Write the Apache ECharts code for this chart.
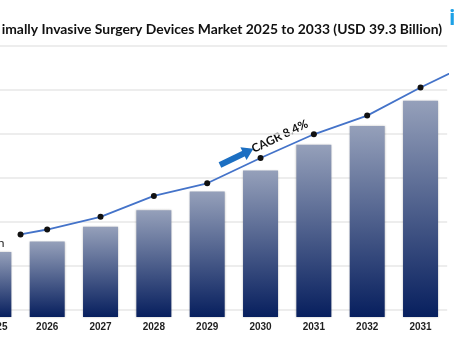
<!DOCTYPE html>
<html><head><meta charset="utf-8">
<script src="https://cdn.jsdelivr.net/npm/echarts@6/dist/echarts.min.js"></script>
<style>html,body{margin:0;padding:0;background:#fff}#c{width:454px;height:341px}</style>
</head><body><div id="c"></div>
<script>
// ---- data ----
const categories = ['2025', '2026', '2027', '2028', '2029', '2030', '2031', '2032', '2031'];
const barValues = [11.8, 13.7, 16.4, 19.4, 22.8, 26.6, 31.3, 34.7, 39.3];
const linePositions = [0.5, 1, 2, 3, 4, 5, 6, 7, 8, 9];
const lineValues = [15.0, 15.9, 18.2, 22.0, 24.3, 28.9, 33.2, 36.6, 41.7, 46.4];
const titleText = 'imally Invasive Surgery Devices Market 2025 to 2033 (USD 39.3 Billion)';
const cagrText = 'CAGR 8.4%';
const leftLabelText = 'n';
const logoText = 'i';

function fitSize(text, weight, family, target) {
  const ctx = document.createElement('canvas').getContext('2d');
  ctx.font = weight + ' 100px ' + family;
  return 100 * target / ctx.measureText(text).width;
}
const titleFont = 'Lato';
const titleSize = fitSize(titleText, 'bold', titleFont, 441);
const cagrSize = fitSize(cagrText, 'bold', 'Lato', 61);

const chart = echarts.init(document.getElementById('c'), null, {renderer: 'canvas'});
const grid = {left: -32.8, right: 6.8, top: 45.7, bottom: 24, containLabel: false, outerBoundsMode: 'none'};
chart.setOption({
  animation: false,
  backgroundColor: '#ffffff',
  grid: grid,
  xAxis: [
    {
      type: 'category', data: categories, boundaryGap: true,
      axisLine: {show: false}, axisTick: {show: false}, splitLine: {show: false},
      axisLabel: {
        margin: 5, fontFamily: 'Liberation Sans', fontWeight: 'bold', fontSize: 10, color: '#1e1e1e',
        interval: 0, hideOverlap: false,
        formatter: (v, i) => i === 0 ? '{first|' + v + '}' : v,
        rich: {first: {fontFamily: 'Liberation Sans', fontWeight: 'bold', fontSize: 10, color: '#1e1e1e', padding: [0, 0, 0, 5]}}
      }
    },
    {type: 'value', min: -0.5, max: 8.5, show: false}
  ],
  yAxis: [
    {type: 'value', min: 0, max: 49.3, show: false, splitLine: {show: false}},
    {type: 'value', min: 0, max: 6.159, interval: 1, inverse: true,
     axisLine: {show: false}, axisTick: {show: false}, axisLabel: {show: false},
     splitLine: {show: true, showMaxLine: false, lineStyle: {color: '#e7e7e7', width: 1.6}}}
  ],
  series: [
    {
      type: 'bar', xAxisIndex: 0, yAxisIndex: 0, data: barValues, barWidth: 35,
      itemStyle: {
        color: new echarts.graphic.LinearGradient(0, 0, 0, 1, [
          {offset: 0, color: '#95a0ba'}, {offset: 1, color: '#071f5e'}
        ]),
        shadowBlur: 2, shadowColor: 'rgba(0,0,0,0.25)'
      },
      silent: true
    },
    {
      type: 'line', xAxisIndex: 1, yAxisIndex: 0, clip: false,
      data: linePositions.map((x, i) => [x, lineValues[i]]),
      symbol: 'circle', symbolSize: 6,
      itemStyle: {color: '#111111'},
      lineStyle: {color: '#4473c9', width: 1.8},
      z: 5, silent: true,
      markLine: {
        silent: true, symbol: ['none', 'triangle'], symbolSize: [14, 11],
        label: {show: false},
        lineStyle: {color: '#1c6fc2', width: 6, type: 'solid'},
        emphasis: {disabled: true},
        data: [[{coord: [4.239, 27.62]}, {coord: [4.773, 30.13]}]]
      }
    }
  ],
  graphic: [
    {type: 'text', left: 1.7, top: 23, style: {text: titleText, font: 'bold ' + titleSize.toFixed(2) + 'px ' + titleFont, fill: '#111111', textVerticalAlign: 'middle'}, silent: true},
    {type: 'text', x: 449, y: 19, style: {text: logoText, font: 'bold 21px "Open Sans"', fill: '#1da1e6', textAlign: 'left', textVerticalAlign: 'middle'}, silent: true},
    {type: 'text', x: 4.5, y: 243, style: {text: leftLabelText, font: '12px Lato', fill: '#222222', textAlign: 'right', textVerticalAlign: 'middle'}, silent: true},
    {type: 'text', x: 255, y: 155, rotation: 25.7 * Math.PI / 180, style: {text: cagrText, font: 'bold ' + cagrSize.toFixed(2) + 'px Lato', fill: '#111111', textAlign: 'left', textVerticalAlign: 'bottom'}, silent: true}
  ]
});
</script>
</body></html>
